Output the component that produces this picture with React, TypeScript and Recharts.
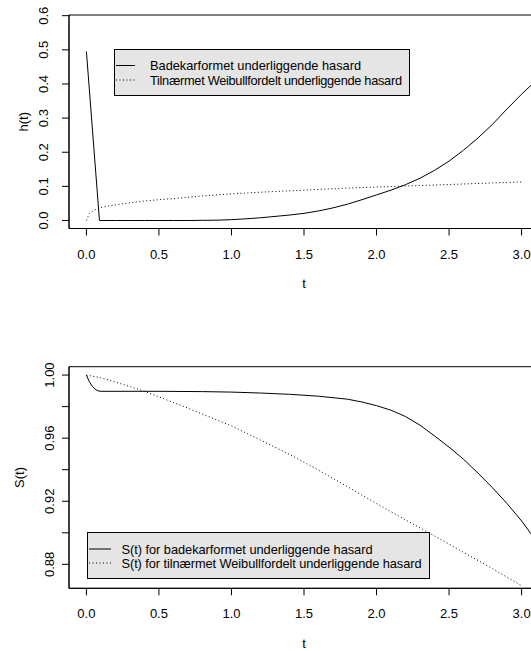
import React from 'react';
import { LineChart, Line, XAxis, YAxis, ReferenceArea } from 'recharts';

const FONT = '"Liberation Sans", Arial, Helvetica, sans-serif';

// ---------- data ----------
const xTicks = [0, 0.5, 1, 1.5, 2, 2.5, 3];
const xTickLabels = ['0.0', '0.5', '1.0', '1.5', '2.0', '2.5', '3.0'];

const hTicks = [0, 0.1, 0.2, 0.3, 0.4, 0.5, 0.6];
const hTickLabels = ['0.0', '0.1', '0.2', '0.3', '0.4', '0.5', '0.6'];

const sTicks = [0.88, 0.9, 0.92, 0.94, 0.96, 0.98, 1.0];
const sTickLabels = ['0.88', '', '0.92', '', '0.96', '', '1.00'];

const hazardNames = ['Badekarformet underliggende hasard', 'Tilnærmet Weibullfordelt underliggende hasard'];
const survivalNames = ['S(t) for badekarformet underliggende hasard', 'S(t) for tilnærmet Weibullfordelt underliggende hasard'];

const bathtubTimes = [0, 0.09, 0.2, 0.3, 0.4, 0.5, 0.6, 0.7, 0.8, 0.9, 1.0, 1.1, 1.2, 1.3, 1.4, 1.5, 1.6, 1.7, 1.8, 1.9, 2.0, 2.1, 2.2, 2.3, 2.4, 2.5, 2.6, 2.7, 2.8, 2.9, 3.0, 3.1];
const bathtubHazard = [0.495, 0, 0, 0, 0, 0, 0, 0, 0.0005, 0.001, 0.0025, 0.005, 0.008, 0.012, 0.016, 0.021, 0.028, 0.037, 0.048, 0.061, 0.075, 0.089, 0.105, 0.124, 0.147, 0.174, 0.206, 0.242, 0.282, 0.327, 0.37, 0.41];

const weibullTimes = [0, 0.02, 0.05, 0.1, 0.2, 0.3, 0.4, 0.5, 0.6, 0.7, 0.8, 0.9, 1.0, 1.2, 1.4, 1.6, 1.8, 2.0, 2.2, 2.4, 2.6, 2.8, 3.0];
const weibullHazard = [0, 0.02, 0.03, 0.038, 0.046, 0.052, 0.057, 0.061, 0.064, 0.068, 0.072, 0.075, 0.078, 0.083, 0.087, 0.091, 0.095, 0.098, 0.101, 0.104, 0.107, 0.11, 0.113];

const bathtubSurvTimes = [0, 0.02, 0.04, 0.06, 0.08, 0.1, 0.5, 0.8, 1.0, 1.2, 1.4, 1.6, 1.8, 1.9, 2.0, 2.1, 2.2, 2.3, 2.4, 2.5, 2.6, 2.7, 2.8, 2.9, 3.0, 3.1];
const bathtubSurv = [1, 0.9958, 0.993, 0.991, 0.99, 0.9897, 0.9897, 0.9895, 0.9892, 0.9886, 0.9878, 0.9866, 0.9847, 0.9829, 0.9806, 0.9777, 0.9737, 0.9682, 0.9614, 0.9543, 0.9466, 0.9378, 0.9285, 0.9185, 0.9075, 0.895];

const weibullSurvTimes = [0, 0.1, 0.2, 0.3, 0.4, 0.5, 0.6, 0.7, 0.8, 0.9, 1.0, 1.2, 1.4, 1.6, 1.8, 2.0, 2.2, 2.4, 2.6, 2.8, 3.0];
const weibullSurv = [1, 0.9983, 0.9955, 0.9927, 0.9897, 0.9862, 0.9826, 0.979, 0.9752, 0.9715, 0.9678, 0.9588, 0.9497, 0.9397, 0.9292, 0.9185, 0.9082, 0.898, 0.8876, 0.8772, 0.8665];

const toRows = (ts: number[], vs: number[]) => ts.map((t, i) => ({ t, v: vs[i] }));

const X_DOMAIN: [number, number] = [-0.12, 3.12];
const H_DOMAIN: [number, number] = [-0.0234, 0.602];
const S_DOMAIN: [number, number] = [0.8648, 1.0053];

const DOTTED = '1 2.5';

// ---------- helpers ----------
const makeXTick = (labels: string[], ticks: number[]) => (props: any) => {
  const { x, y, payload } = props;
  const i = ticks.findIndex((t) => Math.abs(t - payload.value) < 1e-9);
  return (
    <text x={x} y={y + 23} textAnchor="middle" fontFamily={FONT} fontSize={13} fill="#000">
      {i >= 0 ? labels[i] : ''}
    </text>
  );
};

const makeYTick = (labels: string[], ticks: number[], dx: number) => (props: any) => {
  const { x, y, payload } = props;
  const i = ticks.findIndex((t) => Math.abs(t - payload.value) < 1e-9);
  const bx = x - dx;
  return (
    <text x={bx} y={y} transform={`rotate(-90, ${bx}, ${y})`} textAnchor="middle" fontFamily={FONT} fontSize={13} fill="#000">
      {i >= 0 ? labels[i] : ''}
    </text>
  );
};

const XTitle = (props: any) => {
  const vb = props.viewBox;
  return (
    <text x={vb.x + vb.width / 2} y={vb.y + 59.5} textAnchor="middle" fontFamily={FONT} fontSize={13} fill="#000">
      t
    </text>
  );
};

const makeYTitle = (text: string, bx: number) => (props: any) => {
  const vb = props.viewBox;
  const cy = vb.y + vb.height / 2;
  return (
    <text x={bx} y={cy} transform={`rotate(-90, ${bx}, ${cy})`} textAnchor="middle" fontFamily={FONT} fontSize={13} fill="#000">
      {text}
    </text>
  );
};

type LegendProps = {
  left: number; top: number; width: number; height: number;
  names: string[]; lineX1: number; lineX2: number; textX: number; rowY: number[]; textLengths: number[];
};

const LegendBox = ({ left, top, width, height, names, lineX1, lineX2, textX, rowY, textLengths }: LegendProps) => (
  <svg style={{ position: 'absolute', left, top }} width={width + 1} height={height + 1}>
    <rect x={0.5} y={0.5} width={width} height={height} fill="#e5e5e5" stroke="#000" strokeWidth={1} />
    {names.map((n, i) => (
      <g key={n}>
        <line x1={lineX1} x2={lineX2} y1={rowY[i]} y2={rowY[i]} stroke="#000" strokeWidth={1} strokeDasharray={i === 1 ? DOTTED : undefined} />
        <text x={textX} y={rowY[i] + 4.6} fontFamily={FONT} fontSize={12.8} fill="#000" textLength={textLengths[i]} lengthAdjust="spacing">{n}</text>
      </g>
    ))}
  </svg>
);

export default function App() {
  return (
    <div style={{ position: 'fixed', left: 0, top: 0, width: 531, height: 651, overflow: 'hidden', background: '#fff' }}>
      {/* Top panel: hazard */}
      <div style={{ position: 'absolute', left: 0, top: 0 }}>
        <LineChart width={545} height={300} margin={{ top: 15, right: 6, bottom: 0, left: 0 }}>
          <XAxis
            type="number" dataKey="t" domain={X_DOMAIN} ticks={xTicks} allowDataOverflow
            height={71.5} tickSize={7} tickMargin={0}
            axisLine={{ stroke: '#000' }} tickLine={{ stroke: '#000' }}
            tick={makeXTick(xTickLabels, xTicks)} label={<XTitle />}
          />
          <YAxis
            type="number" domain={H_DOMAIN} ticks={hTicks} allowDataOverflow
            width={69} tickSize={7} tickMargin={0}
            axisLine={{ stroke: '#000' }} tickLine={{ stroke: '#000' }}
            tick={makeYTick(hTickLabels, hTicks, 14)} label={makeYTitle('h(t)', 28)}
          />
          <ReferenceArea x1={X_DOMAIN[0]} x2={X_DOMAIN[1]} y1={H_DOMAIN[0]} y2={H_DOMAIN[1]} fill="none" stroke="#000" strokeWidth={1} ifOverflow="visible" />
          <Line data={toRows(bathtubTimes, bathtubHazard)} dataKey="v" name={hazardNames[0]} stroke="#000" strokeWidth={1} dot={false} type="linear" isAnimationActive={false} />
          <Line data={toRows(weibullTimes, weibullHazard)} dataKey="v" name={hazardNames[1]} stroke="#000" strokeWidth={1} strokeDasharray={DOTTED} dot={false} type="linear" isAnimationActive={false} />
        </LineChart>
      </div>
      <LegendBox left={114} top={49} width={295} height={46} names={hazardNames} lineX1={2} lineX2={21} textX={36} rowY={[16.5, 31]} textLengths={[211, 252]} />

      {/* Bottom panel: survival */}
      <div style={{ position: 'absolute', left: 0, top: 320 }}>
        <LineChart width={545} height={331} margin={{ top: 46.7, right: 6, bottom: 0, left: 0 }}>
          <XAxis
            type="number" dataKey="t" domain={X_DOMAIN} ticks={xTicks} allowDataOverflow
            height={62.7} tickSize={7} tickMargin={0}
            axisLine={{ stroke: '#000' }} tickLine={{ stroke: '#000' }}
            tick={makeXTick(xTickLabels, xTicks)} label={<XTitle />}
          />
          <YAxis
            type="number" domain={S_DOMAIN} ticks={sTicks} allowDataOverflow
            width={69} tickSize={7} tickMargin={0}
            axisLine={{ stroke: '#000' }} tickLine={{ stroke: '#000' }}
            tick={makeYTick(sTickLabels, sTicks, 8)} label={makeYTitle('S(t)', 24)}
          />
          <ReferenceArea x1={X_DOMAIN[0]} x2={X_DOMAIN[1]} y1={S_DOMAIN[0]} y2={S_DOMAIN[1]} fill="none" stroke="#000" strokeWidth={1} ifOverflow="visible" />
          <Line data={toRows(bathtubSurvTimes, bathtubSurv)} dataKey="v" name={survivalNames[0]} stroke="#000" strokeWidth={1} dot={false} type="linear" isAnimationActive={false} />
          <Line data={toRows(weibullSurvTimes, weibullSurv)} dataKey="v" name={survivalNames[1]} stroke="#000" strokeWidth={1} strokeDasharray={DOTTED} dot={false} type="linear" isAnimationActive={false} />
        </LineChart>
      </div>
      <LegendBox left={87} top={532} width={342} height={46} names={survivalNames} lineX1={2} lineX2={24} textX={34.5} rowY={[17, 31]} textLengths={[251, 300]} />
    </div>
  );
}
